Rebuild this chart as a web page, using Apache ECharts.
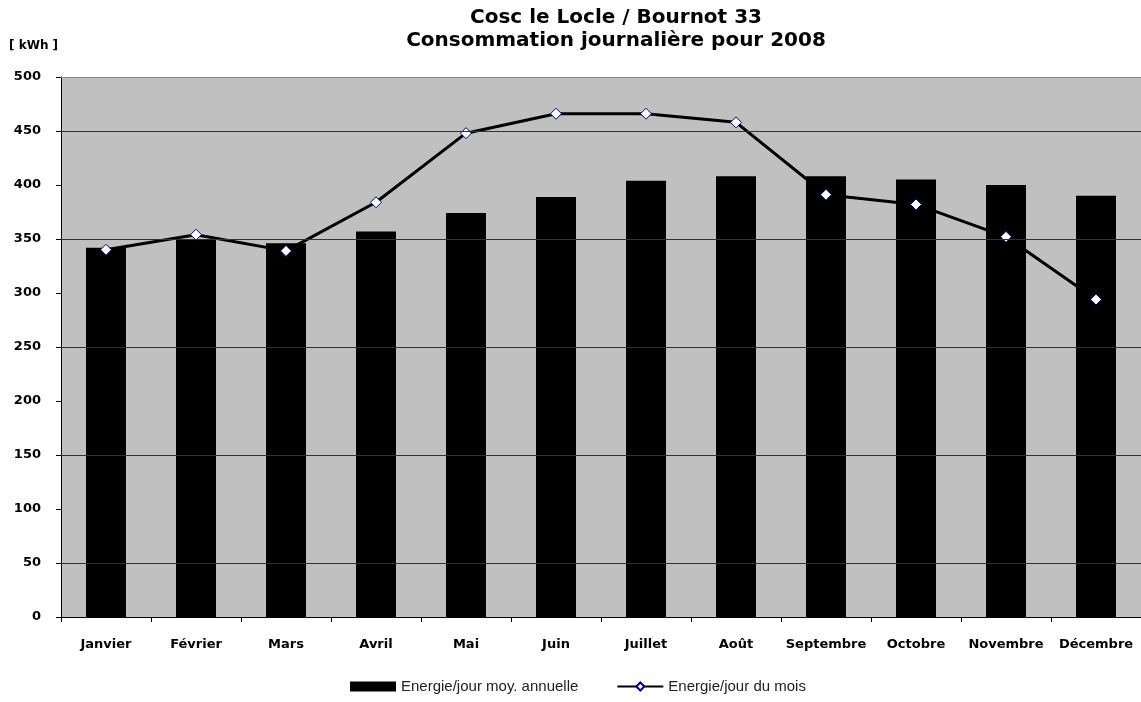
<!DOCTYPE html>
<html>
<head>
<meta charset="utf-8">
<script src="https://cdn.jsdelivr.net/npm/echarts@6/dist/echarts.min.js"></script>
<style>
	html, body { margin: 0; padding: 0; background: #fff; }
	#chart { width: 1141px; height: 702px; }
</style>
</head>
<body>
<div id="chart"></div>
<script>
var months = [ "Janvier", "Février", "Mars", "Avril", "Mai", "Juin", "Juillet",
		"Août", "Septembre", "Octobre", "Novembre", "Décembre" ];
var moyAnnuelle = [ 342, 349, 346, 357, 374, 389, 404, 408, 408, 405, 400, 390 ];
var jourDuMois = [ 340, 354, 339, 384, 448, 466, 466, 458, 391, 382, 352, 294 ];
var gridValues = [ 50, 150, 250, 350, 450 ];

var BOLD = 'DejaVu Sans, sans-serif';
var PLAIN = 'Liberation Sans, Arial, sans-serif';

var chart = echarts.init(document.getElementById('chart'));
var option = {
	animation : false,
	title : {
		text : 'Cosc le Locle / Bournot 33\nConsommation journalière pour 2008',
		left : 611,
		textAlign : 'center',
		top : 1,
		textStyle : {
			fontFamily : BOLD,
			fontSize : 20,
			fontWeight : 'bold',
			color : '#000',
			lineHeight : 23
		}
	},
	graphic : [ {
		type : 'text',
		left : 9,
		top : 40,
		style : {
			text : '[ kWh ]',
			fontFamily : BOLD,
			fontSize : 12,
			fontWeight : 'bold',
			fill : '#000'
		}
	} ],
	legend : {
		bottom : 3,
		left : 345,
		itemGap : 38,
		itemWidth : 46,
		itemHeight : 10,
		textStyle : {
			fontFamily : PLAIN,
			fontSize : 15,
			color : '#222'
		},
		data : [ {
			name : 'Energie/jour moy. annuelle',
			icon : 'rect'
		}, {
			name : 'Energie/jour du mois'
		} ]
	},
	grid : {
		left : 61,
		right : 0,
		top : 77,
		bottom : 85,
		show : true,
		backgroundColor : '#c0c0c0',
		borderWidth : 0
	},
	xAxis : {
		type : 'category',
		data : months,
		axisLine : {
			lineStyle : {
				color : '#000',
				width : 1
			}
		},
		axisTick : {
			show : true,
			alignWithLabel : false,
			length : 5,
			lineStyle : {
				color : '#000'
			}
		},
		axisLabel : {
			margin : 21,
			fontFamily : BOLD,
			fontSize : 13,
			fontWeight : 'bold',
			color : '#000',
			interval : 0
		}
	},
	yAxis : {
		type : 'value',
		min : 0,
		max : 500,
		interval : 50,
		axisLine : {
			show : true,
			lineStyle : {
				color : '#000'
			}
		},
		axisTick : {
			show : true,
			length : 5,
			lineStyle : {
				color : '#000'
			}
		},
		axisLabel : {
			margin : 20,
			fontFamily : BOLD,
			fontSize : 13,
			fontWeight : 'bold',
			color : '#000'
		},
		splitLine : {
			show : false
		}
	},
	series : [ {
		name : 'Energie/jour moy. annuelle',
		type : 'bar',
		data : moyAnnuelle,
		barWidth : 40,
		itemStyle : {
			color : '#000'
		},
		markLine : {
			silent : true,
			symbol : 'none',
			label : {
				show : false
			},
			lineStyle : {
				color : '#333',
				width : 1,
				type : 'solid'
			},
			data : gridValues.map(function(v) {
				return {
					yAxis : v
				};
			}).concat([ {
				yAxis : 500,
				lineStyle : {
					color : '#888'
				}
			} ])
		},
		z : 2
	}, {
		name : 'Energie/jour du mois',
		type : 'line',
		data : jourDuMois,
		symbol : 'diamond',
		symbolSize : 11,
		lineStyle : {
			color : '#000',
			width : 3
		},
		itemStyle : {
			color : '#fff',
			borderColor : '#000080',
			borderWidth : 1
		},
		z : 3
	} ]
};
chart.setOption(option);
</script>
</body>
</html>
